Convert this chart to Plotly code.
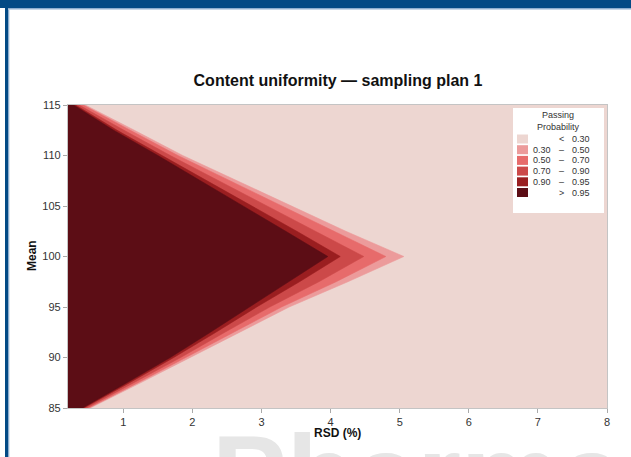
import plotly.graph_objects as go

# ---------------- data ----------------
means = [85, 87.5, 90, 92.5, 95, 97.5, 100, 102.5, 105, 107.5, 110, 112.5, 115]
# RSD (%) at which passing probability drops below each level, per mean
rsd_p95 = [0.41, 1.05, 1.68, 2.26, 2.83, 3.40, 3.96, 3.35, 2.74, 2.13, 1.50, 0.86, 0.28]
rsd_p90 = [0.43, 1.09, 1.73, 2.34, 2.93, 3.55, 4.14, 3.51, 2.86, 2.22, 1.56, 0.91, 0.31]
rsd_p70 = [0.47, 1.15, 1.83, 2.47, 3.12, 3.83, 4.48, 3.78, 3.08, 2.39, 1.68, 1.01, 0.36]
rsd_p50 = [0.50, 1.21, 1.91, 2.60, 3.29, 4.08, 4.80, 4.05, 3.29, 2.55, 1.79, 1.10, 0.42]
rsd_p30 = [0.52, 1.25, 1.97, 2.68, 3.40, 4.25, 5.06, 4.22, 3.43, 2.65, 1.86, 1.16, 0.45]

band_labels_lo = ["", "0.30", "0.50", "0.70", "0.90", ""]
band_labels_sym = ["<", "\u2013", "\u2013", "\u2013", "\u2013", ">"]
band_labels_hi = ["0.30", "0.50", "0.70", "0.90", "0.95", "0.95"]
band_colors = ["#EDD6D1", "#EC9B9B", "#E76B6B", "#CC4949", "#9A1E20", "#5C0D15"]

x_ticks = [1, 2, 3, 4, 5, 6, 7, 8]
y_ticks = [85, 90, 95, 100, 105, 110, 115]
x_min, x_max = 0.2, 8
y_min, y_max = 85, 115

# ---------------- figure ----------------
W, H = 631, 457
L, R, T, B = 68, 24, 105, 49
pw, ph = W - L - R, H - T - B


def px(xp):
    return (xp - L) / pw


def py(yp):
    return (H - B - yp) / ph


fig = go.Figure()

boundaries = [rsd_p30, rsd_p50, rsd_p70, rsd_p90, rsd_p95]
for b, col in zip(boundaries, band_colors[1:]):
    fig.add_trace(go.Scatter(
        x=[x_min] + b + [x_min],
        y=[y_min] + means + [y_max],
        fill="toself", fillcolor=col, mode="lines",
        line=dict(width=0.6, color=col), hoverinfo="skip", showlegend=False,
    ))

shapes = []
annotations = []

# page frame: blue top bar + left bar
shapes += [
    dict(type="rect", xref="paper", yref="paper", x0=px(0), x1=px(W), y0=py(8), y1=py(0),
         fillcolor="#034A85", line=dict(width=0), layer="above"),
    dict(type="rect", xref="paper", yref="paper", x0=px(8), x1=px(W), y0=py(9.5), y1=py(8),
         fillcolor="#8DAECF", line=dict(width=0), layer="above"),
    dict(type="rect", xref="paper", yref="paper", x0=px(5), x1=px(8), y0=py(H), y1=py(8),
         fillcolor="#034A85", line=dict(width=0), layer="above"),
    dict(type="rect", xref="paper", yref="paper", x0=px(8), x1=px(9.3), y0=py(H), y1=py(9.5),
         fillcolor="#8DAECF", line=dict(width=0), layer="above"),
]

# watermark
annotations.append(dict(text="<b>Pharma</b>", xref="paper", yref="paper", x=px(210), y=py(410),
                        xanchor="left", yanchor="top", showarrow=False,
                        font=dict(size=112, color="#E6E6E6", family="Liberation Sans, Arial")))

# legend box
shapes.append(dict(type="rect", xref="paper", yref="paper", x0=px(513), x1=px(604),
                   y0=py(213), y1=py(108), fillcolor="white", line=dict(width=0), layer="above"))
fnt = dict(size=9, color="#333333", family="Liberation Sans, Arial")
annotations.append(dict(text="Passing<br>Probability", xref="paper", yref="paper", x=px(558), y=py(120.5),
                        xanchor="center", yanchor="middle", showarrow=False, font=fnt, align="center"))
row_y = [139, 149.7, 160.4, 171.1, 181.8, 192.5]
for i, (lo, sym, hi, col) in enumerate(zip(band_labels_lo, band_labels_sym, band_labels_hi, band_colors)):
    yc = row_y[i]
    shapes.append(dict(type="rect", xref="paper", yref="paper", x0=px(517), x1=px(528),
                       y0=py(yc + 4.5), y1=py(yc - 4.5), fillcolor=col, line=dict(width=0), layer="above"))
    if lo:
        annotations.append(dict(text=lo, xref="paper", yref="paper", x=px(553), y=py(yc),
                                xanchor="right", yanchor="middle", showarrow=False, font=fnt))
    annotations.append(dict(text=sym, xref="paper", yref="paper", x=px(561), y=py(yc),
                            xanchor="center", yanchor="middle", showarrow=False, font=fnt))
    annotations.append(dict(text=hi, xref="paper", yref="paper", x=px(570), y=py(yc),
                            xanchor="left", yanchor="middle", showarrow=False, font=fnt))

# axis titles
annotations.append(dict(text="<b>RSD (%)</b>", xref="paper", yref="paper", x=0.5, y=py(433),
                        xanchor="center", yanchor="middle", showarrow=False,
                        font=dict(size=12, color="#111111", family="Liberation Sans, Arial")))
annotations.append(dict(text="<b>Mean</b>", xref="paper", yref="paper", x=px(32), y=py(256),
                        xanchor="center", yanchor="middle", showarrow=False, textangle=-90,
                        font=dict(size=12, color="#111111", family="Liberation Sans, Arial")))

axis_common = dict(showgrid=False, zeroline=False, showline=True, linecolor="#C4C4C4", linewidth=1.3,
                   mirror=True, ticks="outside", ticklen=4, tickcolor="#AAAAAA",
                   tickfont=dict(size=11, color="#333333", family="Liberation Sans, Arial"))

fig.update_layout(
    width=W, height=H, autosize=False,
    margin=dict(l=L, r=R, t=T, b=B),
    paper_bgcolor="white", plot_bgcolor=band_colors[0],
    title=dict(text="<b>Content uniformity \u2014 sampling plan 1</b>", xref="container", x=338 / W,
               xanchor="center", y=1 - 80 / H, yanchor="middle",
               font=dict(size=16, color="#111111", family="Liberation Sans, Arial")),
    xaxis=dict(range=[x_min, x_max], tickvals=x_ticks, **axis_common),
    yaxis=dict(range=[y_min, y_max], tickvals=y_ticks, **axis_common),
    shapes=shapes, annotations=annotations, showlegend=False,
)

fig.write_html("out.html", config={"displayModeBar": False},
               post_script="document.body.style.margin='0px';document.body.style.overflow='hidden';")
